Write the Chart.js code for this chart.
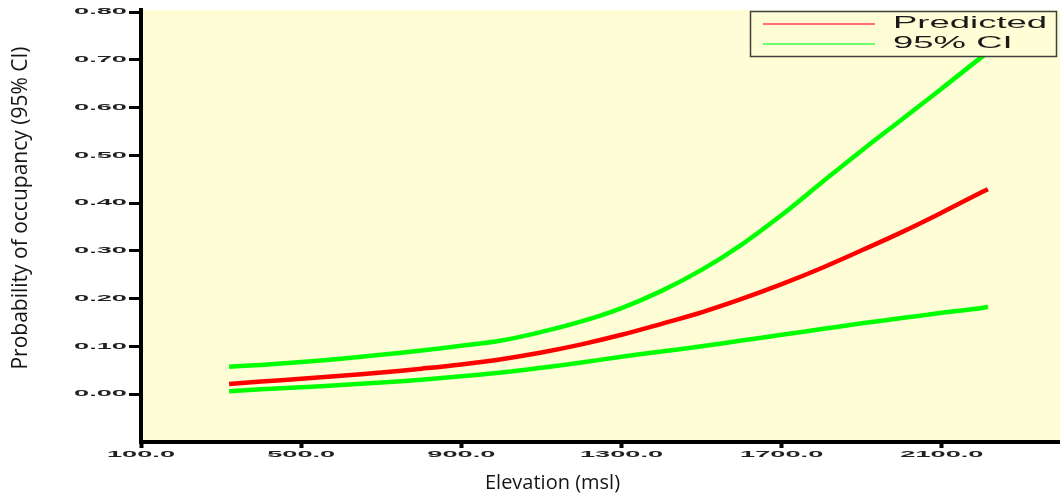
<!DOCTYPE html>
<html>
<head>
<meta charset="utf-8">
<script src="https://cdn.jsdelivr.net/npm/chart.js@4.4.1/dist/chart.umd.min.js"></script>
<style>
html,body{margin:0;padding:0;background:#ffffff;overflow:hidden}
#wrap{width:1060px;height:502px;position:relative}
</style>
</head>
<body>
<div id="wrap"><canvas id="c" width="1060" height="502"></canvas></div>
<script>
// ---- data ----
const elevation = [320, 400, 500, 600, 700, 800, 900, 1000, 1100, 1200, 1300, 1400, 1500, 1600, 1700, 1800, 1900, 2000, 2100, 2200, 2215];
const predicted = [0.021, 0.026, 0.032, 0.038, 0.045, 0.053, 0.062, 0.073, 0.087, 0.104, 0.124, 0.147, 0.171, 0.199, 0.230, 0.264, 0.301, 0.339, 0.380, 0.423, 0.429];
const ciUpper   = [0.057, 0.061, 0.067, 0.074, 0.082, 0.091, 0.101, 0.112, 0.130, 0.152, 0.180, 0.216, 0.260, 0.313, 0.375, 0.443, 0.510, 0.575, 0.640, 0.706, 0.714];
const ciLower   = [0.006, 0.010, 0.014, 0.019, 0.024, 0.030, 0.037, 0.045, 0.055, 0.066, 0.078, 0.089, 0.100, 0.112, 0.124, 0.136, 0.148, 0.159, 0.170, 0.180, 0.183];
const xTickValues = [100, 500, 900, 1300, 1700, 2100];
const yTickValues = [0, 0.1, 0.2, 0.3, 0.4, 0.5, 0.6, 0.7, 0.8];
const seriesLabels = ['Predicted', '95% CI'];
const xTitle = 'Elevation (msl)';
const yTitle = 'Probability of occupancy (95% CI)';

// ---- styling ----
const PLOT_BG = 'rgb(255,253,213)';
const RED = '#ff0000';
const GREEN = '#00ff00';
const TICK_STRETCH = 3.2;
const LEGEND_STRETCH = 2.28;

function toPoints(vals) { return elevation.map((e, i) => ({ x: e, y: vals[i] })); }

function patchTitle(scale, dx, dy) {
  if (!scale || scale._titlePatched) return;
  const f = scale.drawTitle;
  scale.drawTitle = function () {
    this.ctx.save();
    this.ctx.translate(dx, dy);
    f.call(this);
    this.ctx.restore();
  };
  scale._titlePatched = true;
}

const stylePlugin = {
  id: 'stylePlugin',
  beforeDraw(chart) {
    const { ctx, chartArea: a } = chart;
    ctx.save();
    ctx.fillStyle = PLOT_BG;
    ctx.fillRect(a.left, a.top, a.right - a.left, a.bottom - a.top);
    ctx.restore();
    patchTitle(chart.scales.x, -48, 0);
    patchTitle(chart.scales.y, 0, -18);
  },
  afterDatasetsDraw(chart) {
    // tick labels are drawn after datasets (ticks.z = 1); stretch them horizontally
    const ctx = chart.ctx;
    const orig = CanvasRenderingContext2D.prototype.fillText;
    ctx.fillText = function (t, x, y) {
      this.save();
      this.translate(x, y);
      this.scale(TICK_STRETCH, 1);
      orig.call(this, t, 0, 0);
      this.restore();
    };
  },
  afterDraw(chart) {
    const ctx = chart.ctx;
    delete ctx.fillText;
    // legend box
    const ds = chart.data.datasets;
    const L = 750, T = 11, W = 307, H = 46;
    ctx.save();
    ctx.fillStyle = PLOT_BG;
    ctx.fillRect(L, T, W, H);
    ctx.strokeStyle = '#404040';
    ctx.lineWidth = 1.5;
    ctx.strokeRect(L + 0.5, T + 0.5, W - 1, H - 1);
    const rows = [
      { label: ds[0].label, color: '#ff6e6e', y: 23 },
      { label: ds[1].label, color: '#70ff70', y: 43 }
    ];
    rows.forEach(r => {
      ctx.strokeStyle = r.color;
      ctx.lineWidth = 2;
      ctx.beginPath();
      ctx.moveTo(763, r.y + 1);
      ctx.lineTo(875, r.y + 1);
      ctx.stroke();
      ctx.fillStyle = '#1a1a1a';
      ctx.font = '16px "Liberation Sans", Arial, sans-serif';
      ctx.textAlign = 'left';
      ctx.textBaseline = 'middle';
      ctx.save();
      ctx.translate(893, r.y + 0.5);
      ctx.scale(LEGEND_STRETCH, 1);
      ctx.fillText(r.label, 0, 0);
      ctx.restore();
    });
    ctx.restore();
  }
};

const tickFont = { family: '"Liberation Sans", Arial, sans-serif', size: 8.5, weight: 'bold', lineHeight: 1.2 };
const titleFontX = { family: '"Open Sans", sans-serif', size: 20, lineHeight: 1.2 };
const titleFontY = { family: '"Open Sans", sans-serif', size: 21, lineHeight: 1.2 };

const lineStyle = { borderWidth: 4.5, pointRadius: 0, fill: false, tension: 0.4 };

new Chart(document.getElementById('c'), {
  type: 'line',
  data: {
    datasets: [
      Object.assign({ label: seriesLabels[0], data: toPoints(predicted), borderColor: RED, backgroundColor: RED, order: 0 }, lineStyle),
      Object.assign({ label: seriesLabels[1], data: toPoints(ciUpper), borderColor: GREEN, backgroundColor: GREEN, order: 1 }, lineStyle),
      Object.assign({ label: seriesLabels[1], data: toPoints(ciLower), borderColor: GREEN, backgroundColor: GREEN, order: 1 }, lineStyle)
    ]
  },
  options: {
    responsive: false,
    devicePixelRatio: 1,
    animation: false,
    layout: { padding: { top: 10, left: 0, right: 0, bottom: 0 } },
    plugins: {
      legend: { display: false },
      tooltip: { enabled: false },
      title: { display: false }
    },
    scales: {
      x: {
        type: 'linear',
        position: 'bottom',
        min: 100,
        max: 2395,
        afterBuildTicks: s => { s.ticks = xTickValues.map(v => ({ value: v })); },
        afterFit: s => { s.height = 60; },
        ticks: {
          z: 1,
          autoSkip: false,
          maxRotation: 0,
          padding: 2,
          color: '#222',
          font: tickFont,
          callback: v => Number(v).toFixed(1)
        },
        grid: { display: true, drawOnChartArea: false, drawTicks: true, tickLength: 6, tickWidth: 4, color: '#000', tickColor: '#000' },
        border: { display: true, color: '#000', width: 4 },
        title: { display: true, text: xTitle, color: '#151515', font: titleFontX, padding: { top: 0, bottom: 7 } }
      },
      y: {
        type: 'linear',
        position: 'left',
        min: -0.1005,
        max: 0.8042,
        afterBuildTicks: s => { s.ticks = yTickValues.map(v => ({ value: v })); },
        afterFit: s => { s.width = 141; },
        ticks: {
          z: 1,
          autoSkip: false,
          padding: 2,
          color: '#222',
          font: tickFont,
          callback: v => Number(v).toFixed(2)
        },
        grid: { display: true, drawOnChartArea: false, drawTicks: true, tickLength: 12, tickWidth: 3, color: '#000', tickColor: '#000' },
        border: { display: true, color: '#000', width: 4 },
        title: { display: true, text: yTitle, color: '#151515', font: titleFontY, padding: { top: 8, bottom: 0 } }
      }
    }
  },
  plugins: [stylePlugin]
});
</script>
</body>
</html>
